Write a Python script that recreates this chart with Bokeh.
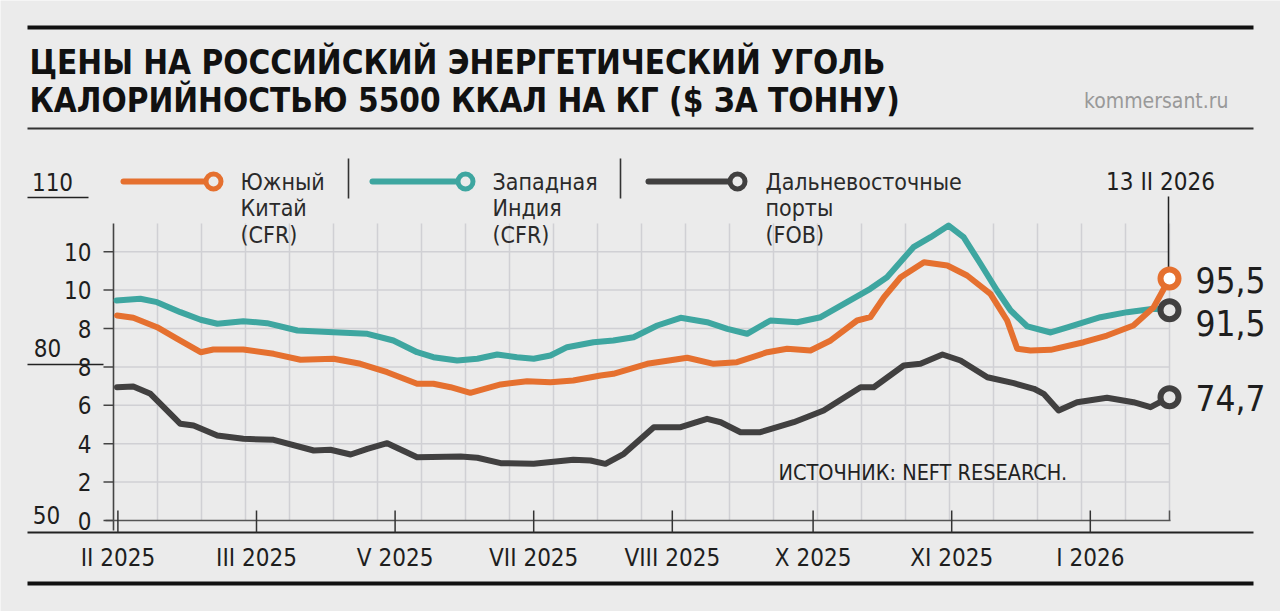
from bokeh.plotting import figure
from bokeh.models import Range1d
from bokeh.core.properties import value
from bokeh.embed import file_html
from bokeh.resources import INLINE

# ---------------- data ----------------
title_lines = ["ЦЕНЫ НА РОССИЙСКИЙ ЭНЕРГЕТИЧЕСКИЙ УГОЛЬ",
               "КАЛОРИЙНОСТЬЮ 5500 ККАЛ НА КГ ($ ЗА ТОННУ)"]
site = "kommersant.ru"
source = "ИСТОЧНИК: NEFT RESEARCH."
last_date = "13 II 2026"

month_labels = ["II 2025", "III 2025", "V 2025", "VII 2025", "VIII 2025", "X 2025", "XI 2025", "I 2026"]
month_ticks = [0.1, 3.25, 6.4, 9.55, 12.7, 15.9, 19.05, 22.2]

inner_tick_labels = ["0", "2", "4", "6", "8", "8", "10", "10"]
outer_tick_labels = ["110", "80", "50"]

series_names = [["Южный", "Китай", "(CFR)"],
                ["Западная", "Индия", "(CFR)"],
                ["Дальневосточные", "порты", "(FOB)"]]
end_labels = ["95,5", "91,5", "74,7"]

x_china = [0.08, 0.45, 0.99, 1.45, 1.98, 2.27, 2.95, 3.64, 4.25, 5.0, 5.61, 6.22, 6.9, 7.27, 7.66, 8.11,
           8.8, 9.4, 9.93, 10.45, 11.07, 11.36, 12.13, 13.04, 13.64, 14.17, 14.86, 15.31, 15.84, 16.3,
           16.9, 17.2, 17.51, 17.89, 18.42, 18.95, 19.4, 19.93, 20.31, 20.54, 20.84, 21.3, 22.05, 22.58,
           23.18, 23.64, 24.0]
china = [88.86, 88.45, 86.77, 84.69, 82.29, 82.77, 82.77, 82.0, 80.93, 81.11, 80.21, 78.71, 76.63, 76.63,
         76.02, 75.02, 76.51, 77.1, 76.92, 77.22, 78.12, 78.42, 80.21, 81.29, 80.21, 80.5, 82.29, 82.9,
         82.6, 84.39, 87.97, 88.56, 92.14, 95.72, 98.41, 97.82, 96.03, 92.75, 87.97, 82.9, 82.6, 82.72,
         84.08, 85.28, 87.07, 90.35, 95.5]

x_india = [0.07, 0.61, 0.99, 1.52, 1.98, 2.36, 2.95, 3.49, 4.18, 5.0, 5.77, 6.36, 6.9, 7.27, 7.81, 8.27,
           8.72, 9.17, 9.55, 9.93, 10.31, 10.91, 11.36, 11.82, 12.36, 12.89, 13.49, 13.95, 14.4, 14.93,
           15.54, 16.07, 16.67, 17.2, 17.58, 18.18, 18.57, 18.98, 19.32, 19.7, 20.08, 20.39, 20.77, 21.3,
           21.68, 22.43, 23.04, 23.64, 24.0]
india = [91.55, 91.86, 91.25, 89.46, 88.1, 87.38, 87.84, 87.49, 86.18, 85.87, 85.59, 84.39, 82.29, 81.4,
         80.8, 81.11, 81.88, 81.4, 81.11, 81.7, 83.19, 84.08, 84.39, 84.98, 87.07, 88.45, 87.66, 86.48,
         85.59, 87.97, 87.66, 88.56, 91.25, 93.65, 95.72, 101.1, 102.89, 104.98, 102.89, 98.18, 93.34,
         89.76, 86.9, 85.82, 86.72, 88.56, 89.46, 90.06, 89.8]

x_fareast = [0.08, 0.45, 0.84, 1.52, 1.82, 2.36, 2.95, 3.64, 4.55, 4.93, 5.39, 5.77, 6.22, 6.9, 7.89, 8.27,
             8.8, 9.55, 10.45, 10.84, 11.18, 11.6, 12.28, 12.89, 13.49, 13.8, 14.25, 14.7, 15.46, 16.14,
             16.98, 17.28, 17.96, 18.34, 18.84, 19.25, 19.86, 20.46, 20.92, 21.14, 21.48, 21.9, 22.58,
             23.18, 23.57, 24.0]
fareast = [76.02, 76.15, 74.84, 69.47, 69.16, 67.37, 66.78, 66.6, 64.68, 64.81, 63.97, 64.99, 65.99, 63.48,
           63.61, 63.38, 62.41, 62.3, 63.02, 62.9, 62.3, 64.09, 68.86, 68.86, 70.36, 69.75, 67.96, 67.96,
           69.75, 71.85, 76.02, 76.02, 79.91, 80.21, 81.88, 80.8, 77.81, 76.74, 75.74, 74.84, 71.85, 73.33,
           74.12, 73.33, 72.44, 74.23]

# ---------------- layout / style ----------------
W, H = 1280, 611
PX0, PXS = 113.0, 44.0          # pixel of x=0, pixels per x unit
PY_REF, Y_REF, PYS = 197.0, 110.0, 5.583   # pixel of value 110, pixels per $ unit
N_CELLS = 24

def fx(px):
    return (px - PX0) / PXS

def fy(py):
    return Y_REF - (py - PY_REF) / PYS

BG = "#ebebeb"
ORANGE = "#e5702f"
TEAL = "#3ea6a0"
DARK = "#414040"
GRID = "#d0d0d4"
INK = "#1e1e1e"
NARROW = "DejaVu Sans Condensed, Roboto, sans-serif"
HEAVY = "DejaVu Sans Condensed, Roboto, sans-serif"

p = figure(width=W, height=H, x_range=Range1d(fx(0), fx(W)), y_range=Range1d(fy(H), fy(0)),
           x_axis_type=None, y_axis_type=None, toolbar_location=None, output_backend="svg",
           min_border=0, background_fill_color=BG, border_fill_color=BG, outline_line_color=None)
p.grid.visible = False


def txt(px, py, s, size, color=INK, align="left", baseline="middle", style="normal", font=NARROW):
    p.text(x=[fx(px)], y=[fy(py)], text=[s], text_font=value(font), text_font_size=f"{size}px",
           text_color=color, text_align=align, text_baseline=baseline, text_font_style=style)


def hline(px0, px1, py, w, color=INK):
    p.line([fx(px0), fx(px1)], [fy(py), fy(py)], line_width=w, line_color=color)


def vline(px, py0, py1, w, color=INK):
    p.line([fx(px), fx(px)], [fy(py0), fy(py1)], line_width=w, line_color=color)


# header
hline(27, 1253, 27, 4, "#111111")
txt(29, 62, title_lines[0], 33, "#111111", style="bold", font=HEAVY)
txt(29, 100, title_lines[1], 33, "#111111", style="bold", font=HEAVY)
txt(1228, 100, site, 21, "#999999", align="right")
hline(27, 1253, 128, 2, "#333333")

# footer rules
hline(27, 1253, 532, 2, "#222222")
hline(27, 1253, 583, 4, "#111111")

# grid
y_inner0 = fy(520)
y_step = 38.4 / PYS
inner_vals = [y_inner0 + i * y_step for i in range(len(inner_tick_labels))]
p.segment(x0=list(range(1, N_CELLS + 1)), x1=list(range(1, N_CELLS + 1)),
          y0=[fy(520)] * N_CELLS, y1=[fy(223)] * N_CELLS, line_color=GRID, line_width=1.5)
p.segment(x0=[0] * 7, x1=[N_CELLS] * 7, y0=inner_vals[1:], y1=inner_vals[1:],
          line_color=GRID, line_width=1.5)

# axes
vline(PX0, 223, 530, 1.6, "#444444")
hline(105, 1170, 520, 1.6, "#555555")
p.segment(x0=[fx(103)] * len(inner_vals), x1=[0] * len(inner_vals), y0=inner_vals, y1=inner_vals,
          line_color="#444444", line_width=1.5)
p.segment(x0=month_ticks, x1=month_ticks, y0=[fy(510)] * len(month_ticks), y1=[fy(532)] * len(month_ticks),
          line_color="#333333", line_width=1.5)
vline(1169, 510, 520, 1.5, "#555555")
p.text(x=[fx(91)] * len(inner_vals), y=inner_vals, text=inner_tick_labels, text_font=value(NARROW),
       text_font_size="24px", text_color=INK, text_align="right", text_baseline="middle")
p.text(x=month_ticks, y=[fy(557)] * len(month_ticks), text=month_labels, text_font=value(NARROW),
       text_font_size="24px", text_color=INK, text_align="center", text_baseline="middle")

# outer scale (110 / 80 / 50)
for s, px, py in zip(outer_tick_labels, [52, 47, 46], [181, 347, 514]):
    txt(px, py, s, 24, INK, align="center")
hline(27, 88, 197, 1.5, "#222222")
hline(27, 103, 364, 1.5, "#222222")

# legend
leg = [(123, 205, 213, 240, ORANGE), (372, 455, 465, 492, TEAL), (648, 728, 737, 765, DARK)]
for (l0, l1, cx, tx, c), names in zip(leg, series_names):
    p.line([fx(l0), fx(l1)], [fy(181), fy(181)], line_width=6, line_color=c, line_cap="round")
    p.scatter([fx(cx)], [fy(181)], marker="circle", size=15, line_width=5, line_color=c, fill_color=BG)
    for k, s in enumerate(names):
        txt(tx, 181 + 26.5 * k, s, 23, "#2a2a2a")
vline(348, 158, 198, 1.6, "#333333")
vline(620, 158, 198, 1.6, "#333333")

# series
for xs, ys, c in [(x_fareast, fareast, DARK), (x_india, india, TEAL), (x_china, china, ORANGE)]:
    p.line(xs, ys, line_width=6, line_color=c, line_join="round", line_cap="round")

# date marker
vline(1168, 196, 268, 1.5, "#222222")
txt(1160, 181, last_date, 24, INK, align="center")

# end markers
p.scatter([x_india[-1], x_fareast[-1]], [india[-1], fareast[-1]], marker="circle", size=18, line_width=6,
          line_color=DARK, fill_color="#e6e6e6")
p.scatter([x_china[-1]], [china[-1]], marker="circle", size=18, line_width=6, line_color=ORANGE,
          fill_color="#ffffff")
for s, py in zip(end_labels, [279, 322, 397]):
    txt(1195, py, s, 35, INK)

# source
txt(778, 472, source, 21.5, "#222222")

open("out.html", "w").write(file_html(p, INLINE))
